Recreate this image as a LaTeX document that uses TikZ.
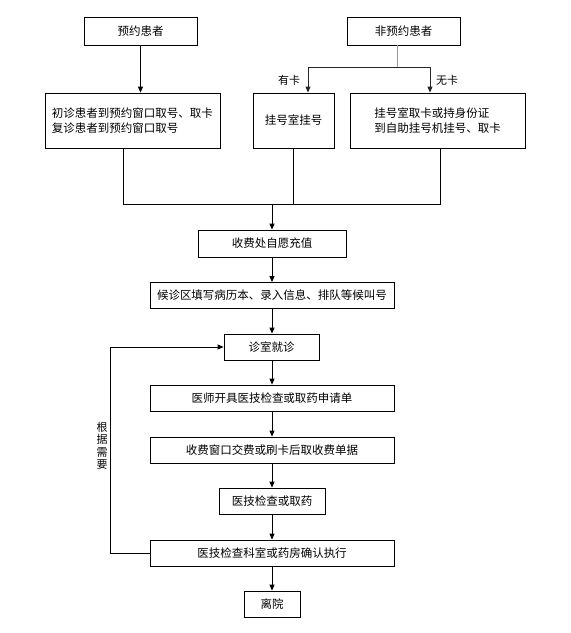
\documentclass[tikz,border=0pt]{standalone}
\usepackage{fontspec}
\setmainfont{Noto Sans CJK SC}
\usetikzlibrary{arrows.meta}
\begin{document}
\begin{tikzpicture}[x=1pt,y=1pt,
  box/.style={draw=black,line width=0.8pt,inner sep=0pt,font=\fontsize{11.5}{15}\selectfont},
  flow/.style={line width=0.8pt,-{Triangle[length=6pt,width=5pt]}},
  line/.style={line width=0.8pt},
  lbl/.style={inner sep=0pt,font=\fontsize{11}{12.5}\selectfont}]
\useasboundingbox (0,0) rectangle (571,-633);
\node[box,minimum width=113,minimum height=28] (a) at (140.5,-31) {预约患者};
\node[box,minimum width=113,minimum height=28] (b) at (403.5,-31) {非预约患者};
\node[box,minimum width=175,minimum height=55,align=left] (c) at (132.5,-120.5) {初诊患者到预约窗口取号、取卡\\复诊患者到预约窗口取号};
\node[box,minimum width=81,minimum height=55] (d) at (293.5,-120.5) {挂号室挂号};
\node[box,minimum width=175,minimum height=55,align=left] (e) at (437.5,-120.5) {挂号室取卡或持身份证\\到自助挂号机挂号、取卡};
\node[box,minimum width=148,minimum height=27] (f) at (272,-243.5) {收费处自愿充值};
\node[box,minimum width=244,minimum height=26] (g) at (272,-295.5) {候诊区填写病历本、录入信息、排队等候叫号};
\node[box,minimum width=95,minimum height=26] (h) at (271.5,-347) {诊室就诊};
\node[box,minimum width=244,minimum height=26] (i) at (272,-398) {医师开具医技检查或取药申请单};
\node[box,minimum width=244,minimum height=26] (j) at (272,-450) {收费窗口交费或刷卡后取收费单据};
\node[box,minimum width=106,minimum height=26] (k) at (272,-501) {医技检查或取药};
\node[box,minimum width=244,minimum height=26] (l) at (272,-553) {医技检查科室或药房确认执行};
\node[box,minimum width=56,minimum height=26] (m) at (272,-604) {离院};
\node[lbl] (yk) at (289,-80) {有卡};
\node[lbl] (wk) at (447,-80) {无卡};
\node[lbl,align=center] (gj) at (102,-446) {根\\据\\需\\要};
% top
\draw[flow] (a.south) -- (c.north -| a.south);
\coordinate (bs) at ([xshift=-6.5pt]b.south);
\coordinate (br) at (397,-67);
\draw[line,draw=gray!80] (bs) -- (br);
\draw[flow,draw=black!85] (br) -| ([xshift=14.5pt]d.north);
\draw[flow,draw=black!85] (br) -| ([xshift=-7.5pt]e.north);
% merge
\coordinate (mg) at (272,-204);
\draw[line] ([xshift=-9.5pt]c.south) |- (mg);
\draw[line] (d.south) |- (mg);
\draw[line] ([xshift=2.5pt]e.south) |- (mg);
\draw[flow] (mg) -- (f.north);
\draw[flow] (f.south) -- (g.north);
\draw[flow] (g.south) -- (h.north -| g.south);
\draw[flow] (h.south -| i.north) -- (i.north);
\draw[flow] (i.south) -- (j.north);
\draw[flow] (j.south) -- (k.north);
\draw[flow] (k.south) -- (l.north);
\draw[flow] (l.south) -- (m.north);
% feedback
\coordinate (fb) at (110,-553);
\draw[line] (l.west) -- (fb);
\draw[flow] (fb) |- (h.west);
\end{tikzpicture}
\end{document}
